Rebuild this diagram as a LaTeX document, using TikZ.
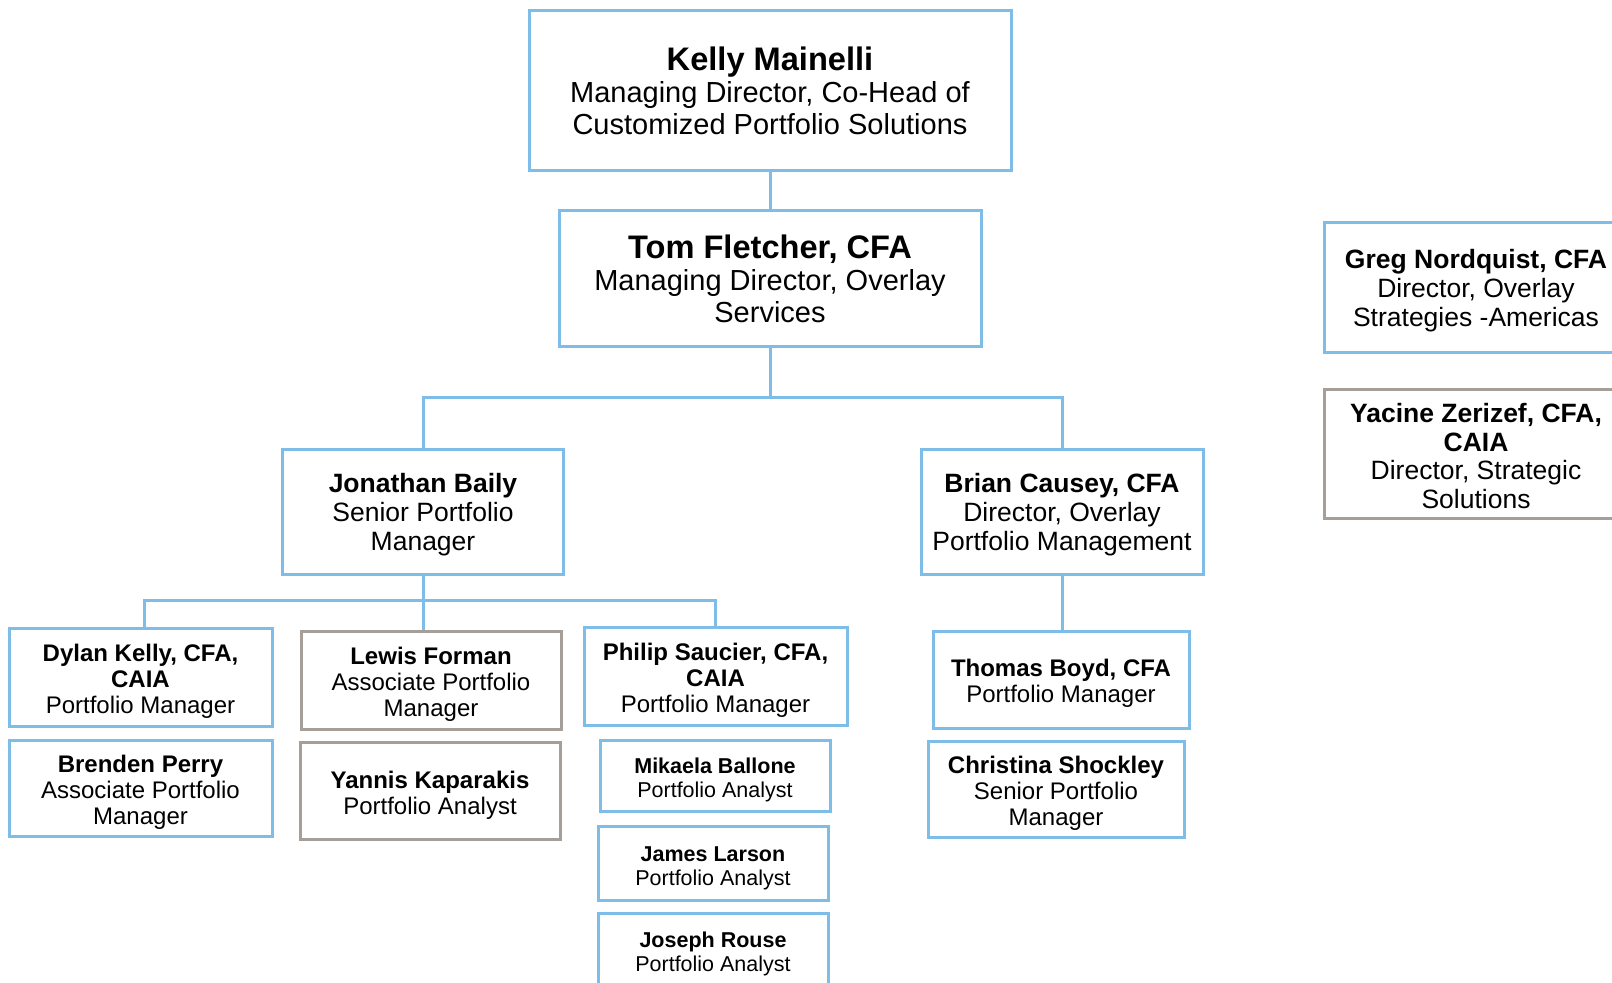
\documentclass[tikz,border=0pt]{standalone}
\usepackage{fontspec}
\setmainfont{Liberation Sans}
\definecolor{bl}{HTML}{7DBDE8}
\definecolor{gr}{HTML}{A69F99}
\newcommand\nm[2][2pt]{{\bfseries\rule{0pt}{\dimexpr\fontcharht\font`\l+#1\relax}#2}}
\newcommand\bnm[1]{{\fontsize{16.3}{16}\selectfont\nm[0.6pt]{#1}}}
\begin{document}
\begin{tikzpicture}[x=0.5pt,y=-0.5pt,
  card/.style={draw=bl,line width=1.5pt,inner sep=0pt,align=center,text=black},
  gcard/.style={card,draw=gr},
  lvA/.style={font=\fontsize{14.5}{16}\selectfont},
  lvB/.style={font=\fontsize{13.25}{14.4}\selectfont},
  lvC/.style={font=\fontsize{12}{13.1}\selectfont},
  lvD/.style={font=\fontsize{10.75}{12.1}\selectfont},
  link/.style={draw=bl,line width=1.5pt}]
\useasboundingbox (0,0) rectangle (1612,983);
\node[card,lvA,minimum width=241pt,minimum height=80pt] (kelly) at (770,91)
  {\bnm{Kelly Mainelli}\\Managing Director, Co-Head of\\Customized Portfolio Solutions};
\node[card,lvA,minimum width=211pt,minimum height=68pt] (tom) at (770,279)
  {\bnm{Tom Fletcher, CFA}\\Managing Director, Overlay\\Services};
\node[card,lvB,minimum width=152pt,minimum height=65pt] (greg) at (1476,288)
  {\nm[3pt]{Greg Nordquist, CFA}\\Director, Overlay\\Strategies -Americas};
\node[gcard,lvB,minimum width=152pt,minimum height=64.5pt] (yacine) at (1476,454.5)
  {\nm[2pt]{Yacine Zerizef, CFA,}\\\textbf{CAIA}\\Director, Strategic\\Solutions};
\node[card,lvB,minimum width=140.5pt,minimum height=62.5pt] (jon) at (423,512.5)
  {\nm[2.5pt]{Jonathan Baily}\\Senior Portfolio\\Manager};
\node[card,lvB,minimum width=141pt,minimum height=62.5pt] (brian) at (1062,512.5)
  {\nm[2.5pt]{Brian Causey, CFA}\\Director, Overlay\\Portfolio Management};
\node[card,lvC,minimum width=131.5pt,minimum height=48.5pt] (dylan) at (140.5,677.5)
  {\nm[4.5pt]{Dylan Kelly, CFA,}\\\textbf{CAIA}\\Portfolio Manager};
\node[gcard,lvC,minimum width=130pt,minimum height=48.5pt] (lewis) at (431,680.5)
  {\nm[4.5pt]{Lewis Forman}\\Associate Portfolio\\Manager};
\node[card,lvC,minimum width=131.5pt,minimum height=48.5pt] (philip) at (715.5,676.5)
  {\nm[4.5pt]{Philip Saucier, CFA,}\\\textbf{CAIA}\\Portfolio Manager};
\node[card,lvC,minimum width=131.5pt,minimum height=48pt] (brenden) at (140.5,788)
  {\nm[5pt]{Brenden Perry}\\Associate Portfolio\\Manager};
\node[gcard,lvC,minimum width=130pt,minimum height=48.5pt] (yannis) at (430,790.5)
  {\nm[5.5pt]{Yannis Kaparakis}\\Portfolio Analyst};
\node[card,lvD,minimum width=115pt,minimum height=35.5pt] (mikaela) at (715,775.5)
  {\nm[5pt]{Mikaela Ballone}\\Portfolio Analyst};
\node[card,lvD,minimum width=115pt,minimum height=37pt] (james) at (713,863)
  {\nm[5pt]{James Larson}\\Portfolio Analyst};
\node[card,lvD,minimum width=115pt,minimum height=38pt] (joseph) at (713,951)
  {\nm[3.5pt]{Joseph Rouse}\\Portfolio Analyst};
\node[card,lvC,minimum width=128pt,minimum height=48pt] (thomas) at (1061,680)
  {\nm[4pt]{Thomas Boyd, CFA}\\Portfolio Manager};
\node[card,lvC,minimum width=128pt,minimum height=48pt] (christina) at (1056,789)
  {\nm[4.5pt]{Christina Shockley}\\Senior Portfolio\\Manager};
% connectors
\draw[link] (kelly.south) -- (tom.north);
\coordinate (tb) at (770,398);
\draw[link] (tom.south) -- (tb);
\draw[link] (jon.north) |- (tb) -| (brian.north);
\coordinate (jb) at (423,601);
\draw[link] (jon.south) -- (jb) -- (jb |- lewis.north);
\draw[link] (dylan.north -| 144,0) |- (jb) -| (philip.north);
\draw[link] (brian.south) -- (brian.south |- thomas.north);
\end{tikzpicture}
\end{document}
